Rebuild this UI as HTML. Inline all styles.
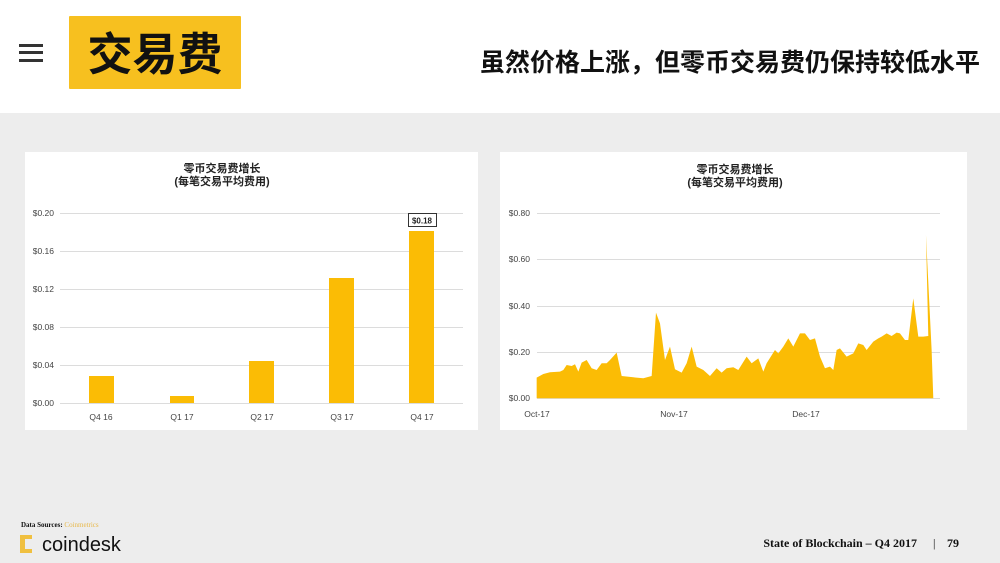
<!DOCTYPE html>
<html><head><meta charset="utf-8"><style>
html,body{margin:0;padding:0;width:1000px;height:563px;overflow:hidden;background:#eeeeee}
svg{display:block}
text{font-family:"Liberation Sans","Noto Sans CJK SC",sans-serif}
</style></head><body>
<svg width="1000" height="563" viewBox="0 0 1000 563" xmlns="http://www.w3.org/2000/svg">
<rect x="0" y="0" width="1000" height="563" fill="#ededed"/>
<rect x="0" y="0" width="1000" height="113" fill="#ffffff"/>
<rect x="19" y="44" width="24" height="3" fill="#333"/>
<rect x="19" y="51" width="24" height="3" fill="#333"/>
<rect x="19" y="59" width="24" height="3" fill="#333"/>
<rect x="69" y="16" width="172" height="73" fill="#f7c01f" rx="1"/>
<text x="155" y="70" font-size="45" font-weight="bold" text-anchor="middle" fill="#111">交易费</text>
<text x="980" y="71" font-size="25" font-weight="bold" text-anchor="end" fill="#111">虽然价格上涨，但零币交易费仍保持较低水平</text>

<rect x="25" y="152" width="453" height="278" fill="#fff"/>
<text x="222" y="172" font-size="11" font-weight="bold" text-anchor="middle" fill="#222">零币交易费增长</text>
<text x="222" y="185" font-size="11" font-weight="bold" text-anchor="middle" fill="#222">(每笔交易平均费用)</text>
<g stroke="#dcdcdc" stroke-width="1">
<line x1="60" x2="463" y1="213.5" y2="213.5"/><line x1="60" x2="463" y1="251.5" y2="251.5"/>
<line x1="60" x2="463" y1="289.5" y2="289.5"/><line x1="60" x2="463" y1="327.5" y2="327.5"/>
<line x1="60" x2="463" y1="365.5" y2="365.5"/><line x1="60" x2="463" y1="403.5" y2="403.5"/>
</g>
<g font-size="8.5" fill="#444" text-anchor="end">
<text x="54" y="216">$0.20</text><text x="54" y="254">$0.16</text><text x="54" y="292">$0.12</text>
<text x="54" y="330">$0.08</text><text x="54" y="368">$0.04</text><text x="54" y="406">$0.00</text>
</g>
<g fill="#fbbc05">
<rect x="89" y="376" width="25" height="27"/><rect x="170" y="396" width="24" height="7"/>
<rect x="249" y="361" width="25" height="42"/><rect x="329" y="278" width="25" height="125"/>
<rect x="409" y="231" width="25" height="172"/>
</g>
<rect x="408.5" y="213.5" width="28" height="13" fill="#fff" stroke="#333"/>
<text x="422" y="223.5" font-size="8" font-weight="bold" text-anchor="middle" fill="#222">$0.18</text>
<g font-size="8.5" fill="#444" text-anchor="middle">
<text x="101" y="420">Q4 16</text><text x="182" y="420">Q1 17</text><text x="262" y="420">Q2 17</text>
<text x="342" y="420">Q3 17</text><text x="422" y="420">Q4 17</text>
</g>

<rect x="500" y="152" width="467" height="278" fill="#fff"/>
<text x="735" y="173" font-size="11" font-weight="bold" text-anchor="middle" fill="#222">零币交易费增长</text>
<text x="735" y="186" font-size="11" font-weight="bold" text-anchor="middle" fill="#222">(每笔交易平均费用)</text>
<g stroke="#dcdcdc" stroke-width="1">
<line x1="537" x2="940" y1="213.5" y2="213.5"/><line x1="537" x2="940" y1="259.5" y2="259.5"/>
<line x1="537" x2="940" y1="306.5" y2="306.5"/><line x1="537" x2="940" y1="352.5" y2="352.5"/>
<line x1="537" x2="940" y1="398.5" y2="398.5"/>
</g>
<g font-size="8.5" fill="#444" text-anchor="end">
<text x="530" y="216">$0.80</text><text x="530" y="262">$0.60</text><text x="530" y="309">$0.40</text>
<text x="530" y="355">$0.20</text><text x="530" y="401">$0.00</text>
</g>
<g transform="translate(500,150) scale(0.3333)">
<polygon fill="#fbbc05" points="110,745 110,683 130,672 150,667 180,665 190,660 200,645 215,648 225,643 235,665 245,638 260,630 275,655 290,660 305,640 320,640 330,630 350,608 365,678 400,682 430,685 455,678 468,488 480,520 495,630 510,590 525,658 545,668 560,640 575,590 590,650 610,660 630,678 650,655 665,668 680,655 700,652 715,660 740,620 755,640 775,625 790,665 800,640 825,600 835,610 850,590 865,565 880,590 900,550 915,550 930,570 945,565 960,620 975,655 990,650 1000,660 1010,600 1020,595 1040,620 1060,610 1075,580 1090,585 1100,600 1120,575 1135,565 1145,560 1160,550 1175,558 1190,548 1200,550 1215,570 1225,570 1240,445 1255,560 1270,560 1285,558 1278,255 1295,600 1300,745"/>
</g>
<g font-size="8.5" fill="#444" text-anchor="middle">
<text x="537" y="417">Oct-17</text><text x="674" y="417">Nov-17</text><text x="806" y="417">Dec-17</text>
</g>

<text x="21" y="527" font-size="7" fill="#111" font-weight="bold" style="font-family:'Liberation Serif',serif">Data Sources: <tspan fill="#e8b84a" font-weight="normal">Coinmetrics</tspan></text>
<rect x="20" y="535" width="5" height="18" fill="#f0c040"/>
<rect x="20" y="535" width="12" height="4" fill="#f0c040"/>
<rect x="20" y="549" width="12" height="4" fill="#f0c040"/>
<text x="42" y="551" font-size="20" fill="#111">coindesk</text>
<text x="917" y="547" font-size="12" text-anchor="end" fill="#111" font-weight="bold" style="font-family:'Liberation Serif',serif">State of Blockchain – Q4 2017</text>
<text x="933" y="547" font-size="12" fill="#111" style="font-family:'Liberation Serif',serif">|</text>
<text x="947" y="547" font-size="12" fill="#111" font-weight="bold" style="font-family:'Liberation Serif',serif">79</text>
</svg>
</body></html>
